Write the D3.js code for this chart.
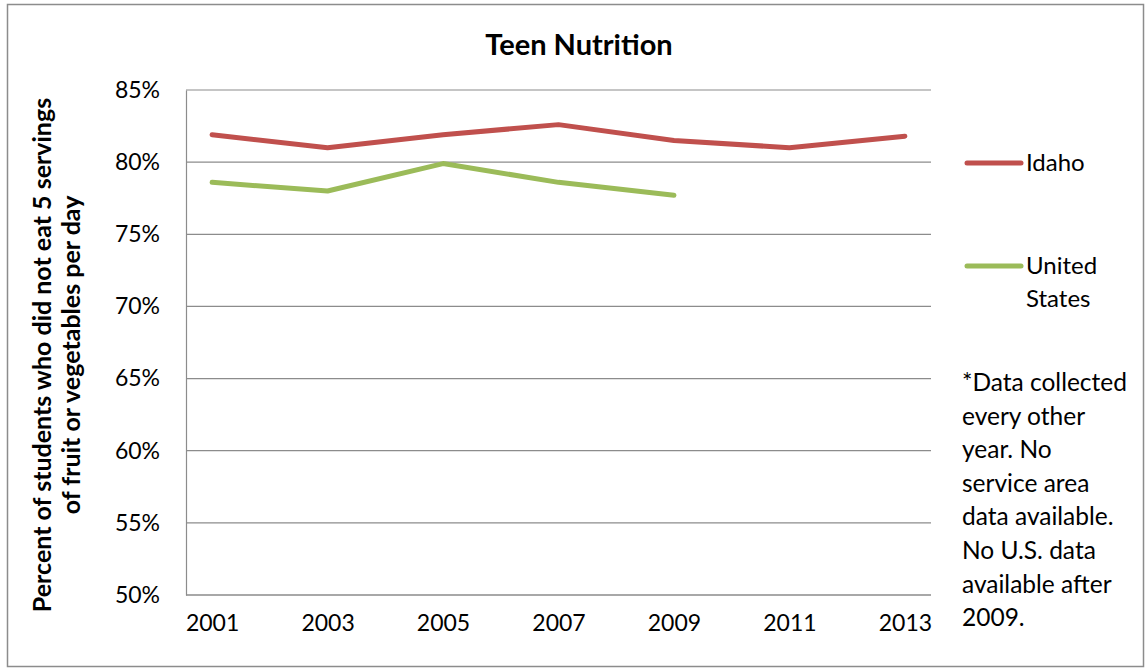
<!DOCTYPE html>
<html>
<head>
<meta charset="utf-8">
<script src="https://cdn.jsdelivr.net/npm/d3@7"></script>
<style>
  body { margin: 0; background: #fff; }
  text { font-family: Lato, "Open Sans", sans-serif; fill: #000; }
  .grid line { stroke: #8c8c8c; stroke-width: 1.2; }
  .domain { stroke: #8c8c8c; stroke-width: 1.2; }
</style>
</head>
<body>
<div id="chart"></div>
<script>
var years   = ["2001", "2003", "2005", "2007", "2009", "2011", "2013"];
var idaho   = [81.9, 81.0, 81.9, 82.6, 81.5, 81.0, 81.8];
var usa     = [78.6, 78.0, 79.9, 78.6, 77.7];
var yTicks  = [50, 55, 60, 65, 70, 75, 80, 85];
var seriesNames  = ["Idaho", "United States"];
var seriesColors = ["#c0504d", "#9bbb59"];
var noteLines = ["*Data collected", "every other", "year. No", "service area",
                 "data available.", "No U.S. data", "available after", "2009."];

var W = 1145, H = 668;
var margin = {left: 186, right: 214, top: 90, bottom: 73};

var svg = d3.select("#chart").append("svg")
  .attr("width", W)
  .attr("height", H);

// outer chart border
svg.append("rect")
  .attr("x", 7.5).attr("y", 4.5)
  .attr("width", 1136).attr("height", 662)
  .attr("fill", "none")
  .attr("stroke", "#8c8c8c")
  .attr("stroke-width", 1.5);

var x = d3.scalePoint()
  .domain(years)
  .range([margin.left, W - margin.right])
  .padding(0.226);

var y = d3.scaleLinear()
  .domain([50, 85])
  .range([H - margin.bottom, margin.top]);

// gridlines
svg.append("g")
  .attr("class", "grid")
  .selectAll("line")
  .data(yTicks)
  .join("line")
  .attr("x1", margin.left)
  .attr("x2", W - margin.right)
  .attr("y1", d => y(d))
  .attr("y2", d => y(d));

// left axis
var yAxis = d3.axisLeft(y).tickValues(yTicks).tickSize(0).tickPadding(26)
  .tickFormat(d => d + "%");
svg.append("g")
  .attr("transform", "translate(" + margin.left + ",0)")
  .call(yAxis)
  .call(g => g.selectAll("text").style("font-size", "23px"));

// bottom axis
var xAxis = d3.axisBottom(x).tickSize(0).tickPadding(20);
svg.append("g")
  .attr("transform", "translate(0," + (H - margin.bottom) + ")")
  .call(xAxis)
  .call(g => g.selectAll("text").style("font-size", "23px"))
  .call(g => g.select(".domain").attr("d", "M" + margin.left + ",0H" + (W - margin.right)));

// lines
var line = d3.line()
  .x((d, i) => x(years[i]))
  .y(d => y(d));

[idaho, usa].forEach(function(s, k) {
  svg.append("path")
    .datum(s)
    .attr("fill", "none")
    .attr("stroke", seriesColors[k])
    .attr("stroke-width", 5)
    .attr("stroke-linecap", "round")
    .attr("stroke-linejoin", "round")
    .attr("d", line);
});

// title
svg.append("text")
  .attr("x", 579).attr("y", 55)
  .attr("text-anchor", "middle")
  .style("font-size", "29px")
  .style("font-weight", "bold")
  .text("Teen Nutrition");

// y axis title
var yt = svg.append("text")
  .attr("transform", "translate(0,355) rotate(-90)")
  .attr("text-anchor", "middle")
  .style("font-size", "25px")
  .style("font-weight", "bold");
yt.append("tspan").attr("x", 0).attr("y", 51).text("Percent of students who did not eat 5 servings");
yt.append("tspan").attr("x", 0).attr("y", 80).text("of fruit or vegetables per day");

// legend
var legY = [163, 266];
var leg = svg.append("g");
seriesNames.forEach(function(n, k) {
  leg.append("line")
    .attr("x1", 967).attr("x2", 1021)
    .attr("y1", legY[k]).attr("y2", legY[k])
    .attr("stroke", seriesColors[k])
    .attr("stroke-width", 5)
    .attr("stroke-linecap", "round");
  var words = k === 1 ? ["United", "States"] : [n];
  words.forEach(function(w, j) {
    leg.append("text")
      .attr("x", 1026)
      .attr("y", legY[k] + 8 + j * 33)
      .style("font-size", "24px")
      .text(w);
  });
});

// note
svg.append("g").selectAll("text")
  .data(noteLines)
  .join("text")
  .attr("x", 962)
  .attr("y", (d, i) => 391 + i * 33.6)
  .style("font-size", "24.5px")
  .text(d => d);
</script>
</body>
</html>
